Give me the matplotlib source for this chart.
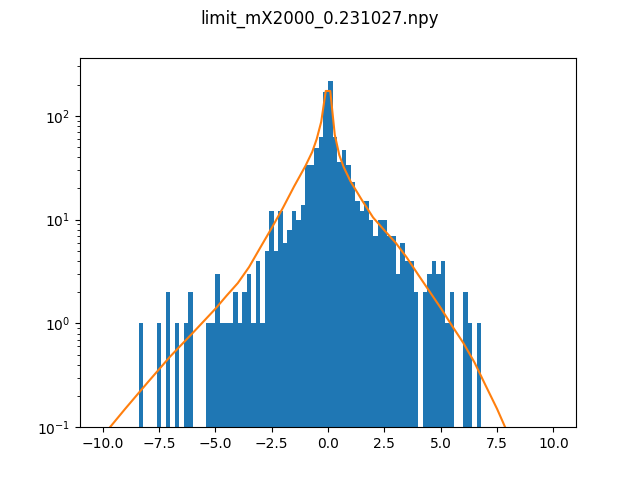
import numpy as np
import matplotlib
matplotlib.use("Agg")
import matplotlib.pyplot as plt

# histogram: 100 bins of width 0.2 between -10 and 10
bin_edges = np.linspace(-10, 10, 101)
counts = [
    0, 0, 0, 0, 0, 0, 0, 0, 1, 0,
    0, 0, 1, 0, 2, 0, 1, 0, 1, 2,
    0, 0, 0, 1, 1, 3, 1, 1, 1, 2,
    1, 2, 3, 1, 4, 1, 5, 12, 5, 12,
    6, 8, 12, 10, 14, 34, 34, 49, 62, 170,
    215, 63, 36, 47, 34, 23, 15, 12, 15, 10,
    7, 10, 10, 7, 7, 3, 6, 4, 4, 2,
    0, 2, 3, 4, 3, 4, 1, 2, 0, 0,
    2, 1, 0, 1, 0, 0, 0, 0, 0, 0,
    0, 0, 0, 0, 0, 0, 0, 0, 0, 0,
]

# fitted curve
curve_x = [-9.9, -9.0, -8.0, -7.0, -6.0, -5.0, -4.5, -4.0, -3.5, -3.0,
           -2.5, -2.0, -1.5, -1.0, -0.7, -0.5, -0.3, -0.1, 0.1, 0.3,
           0.5, 0.7, 1.0, 1.5, 2.0, 2.5, 3.0, 3.5, 4.0, 4.5,
           5.0, 5.5, 6.0, 6.5, 7.0, 7.5, 8.0]
curve_y = [0.087, 0.15, 0.27, 0.48, 0.81, 1.38, 1.85, 2.45, 3.5, 5.4,
           8.3, 13.0, 21.0, 33, 45, 60, 88, 174, 174, 66,
           42, 32, 23.4, 15.5, 10.5, 7.9, 6.0, 4.3, 2.95, 2.04,
           1.41, 0.95, 0.65, 0.42, 0.25, 0.15, 0.085]

centers = 0.5 * (bin_edges[:-1] + bin_edges[1:])

fig, ax = plt.subplots(figsize=(6.4, 4.8), dpi=100)
ax.hist(centers, bins=bin_edges, weights=counts)
ax.plot(curve_x, curve_y)
ax.set_yscale('log')
ax.set_ylim(0.1, 365)
fig.suptitle('limit_mX2000_0.231027.npy')
fig.savefig('out.png')
